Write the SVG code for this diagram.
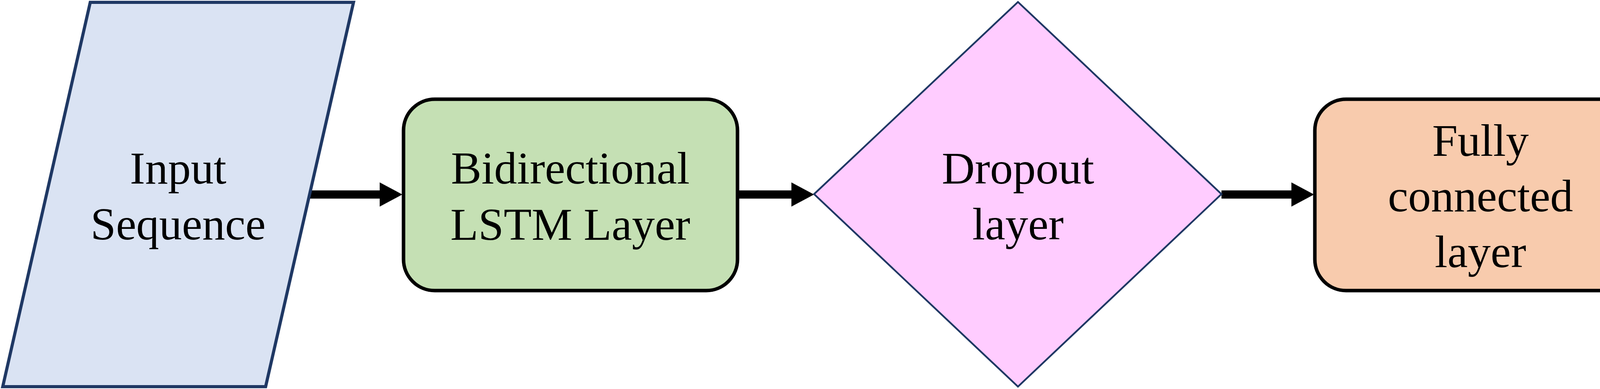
<svg xmlns="http://www.w3.org/2000/svg" width="5154" height="996" viewBox="0 0 5154 996">
<style>
text{font-family:"Liberation Serif","Times New Roman",serif;font-size:117px;fill:#000;text-anchor:middle}
.conn{stroke:#000;stroke-width:21;fill:none}
</style>
<defs>
<marker id="ah" markerUnits="userSpaceOnUse" markerWidth="58" markerHeight="62" refX="0" refY="31" orient="auto">
<path d="M0,0 L58,31 L0,62 z" fill="#000"/>
</marker>
</defs>
<rect width="5154" height="996" fill="#fff"/>
<g id="connectors">
<line class="conn" x1="790" y1="498" x2="972" y2="498" marker-end="url(#ah)"/>
<line class="conn" x1="1888" y1="498" x2="2026" y2="498" marker-end="url(#ah)"/>
<line class="conn" x1="3127" y1="498" x2="3306" y2="498" marker-end="url(#ah)"/>
<line class="conn" x1="4216" y1="498" x2="4434" y2="498" marker-end="url(#ah)"/>
</g>
<g id="input">
<polygon points="231,6 905,6 680,990 7,990" fill="#dae3f3" stroke="#1f3864" stroke-width="8"/>
<text x="456" y="470">Input</text>
<text x="456" y="613">Sequence</text>
</g>
<g id="bilstm">
<rect x="1033" y="254" width="855" height="490" rx="80" ry="80" fill="#c5e0b4" stroke="#000" stroke-width="9"/>
<text x="1460" y="470">Bidirectional</text>
<text x="1460" y="614">LSTM Layer</text>
</g>
<g id="dropout">
<polygon points="2084,497 2606,5 3127,497 2606,990" fill="#ffccff" stroke="#1f3864" stroke-width="4.5"/>
<text x="2606" y="470">Dropout</text>
<text x="2606" y="613">layer</text>
</g>
<g id="fc">
<rect x="3366" y="254" width="850" height="490" rx="80" ry="80" fill="#f8cbad" stroke="#000" stroke-width="9"/>
<text x="3790" y="399">Fully</text>
<text x="3790" y="541">connected</text>
<text x="3790" y="684">layer</text>
</g>
<g id="output">
<ellipse cx="4819" cy="499" rx="325" ry="293" fill="#ffe699" stroke="#1f3864" stroke-width="6"/>
<text x="4822" y="470">Output</text>
<text x="4822" y="614">labels</text>
</g>
</svg>
